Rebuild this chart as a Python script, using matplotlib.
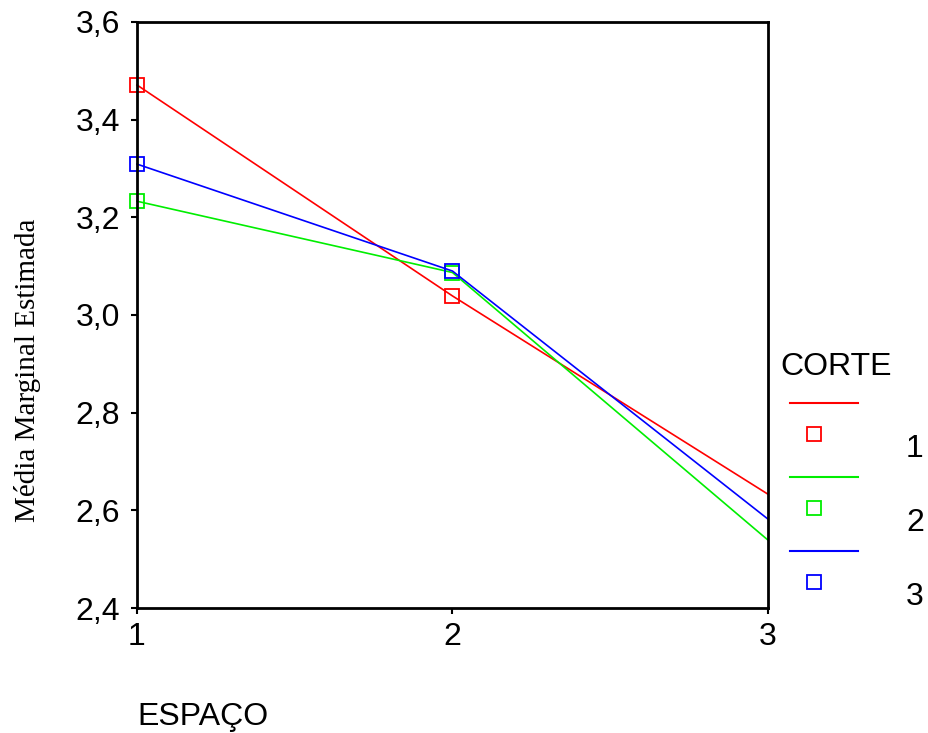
import matplotlib
matplotlib.use("Agg")
import matplotlib.pyplot as plt
from matplotlib.lines import Line2D
from matplotlib.ticker import FuncFormatter

espaco = [1, 2, 3]
corte_labels = ["1", "2", "3"]
corte_colors = ["#ff0000", "#00ee00", "#0000ff"]
media = [
    [3.471, 3.039, 2.633],
    [3.233, 3.087, 2.539],
    [3.309, 3.090, 2.582],
]
y_ticks = [2.4, 2.6, 2.8, 3.0, 3.2, 3.4, 3.6]

plt.rcParams["font.family"] = ["Liberation Sans", "DejaVu Sans"]

fig = plt.figure(figsize=(9.29, 7.33), dpi=100)
ax = fig.add_axes([137 / 929, 1 - 608 / 733, 631 / 929, 586 / 733])

for values, color in zip(media, corte_colors):
    ax.plot(espaco, values, color=color, linewidth=1.2,
            marker="s", markersize=10, markerfacecolor="none",
            markeredgecolor=color, markeredgewidth=1.3,
            markevery=[0, 1], clip_on=False)

ax.set_xlim(1, 3)
ax.set_ylim(2.4, 3.6)
ax.set_xticks(espaco)
ax.set_yticks(y_ticks)
ax.yaxis.set_major_formatter(FuncFormatter(lambda v, p: f"{v:.1f}".replace(".", ",")))
ax.tick_params(direction="out", length=4, width=1.5, labelsize=23)
ax.tick_params(axis="y", pad=8)
ax.tick_params(axis="x", pad=6)
for side in ax.spines.values():
    side.set_linewidth(2)

fig.text(137 / 929, 1 - 717 / 733, "ESPAÇO", fontsize=23, ha="left", va="center")
fig.text(28 / 929, 1 - 370 / 733, "Média Marginal Estimada", fontsize=21,
         family="Liberation Serif", rotation=90, ha="center", va="center")

# legend drawn by hand, SPSS style
fig.text(780 / 929, 1 - 367 / 733, "CORTE", fontsize=23, ha="left", va="center")
for i, (label, color) in enumerate(zip(corte_labels, corte_colors)):
    y_line = 403 + i * 74
    fig.add_artist(Line2D([790 / 929, 858 / 929],
                          [1 - y_line / 733, 1 - y_line / 733],
                          color=color, linewidth=1.5,
                          transform=fig.transFigure))
    fig.add_artist(Line2D([814 / 929], [1 - (y_line + 31) / 733],
                          marker="s", markersize=10, markerfacecolor="none",
                          markeredgecolor=color, markeredgewidth=1.3,
                          linestyle="none", transform=fig.transFigure))
    fig.text(915 / 929, 1 - (y_line + 46) / 733, label, fontsize=23,
             ha="center", va="center")

fig.savefig("out.png", dpi=100)
